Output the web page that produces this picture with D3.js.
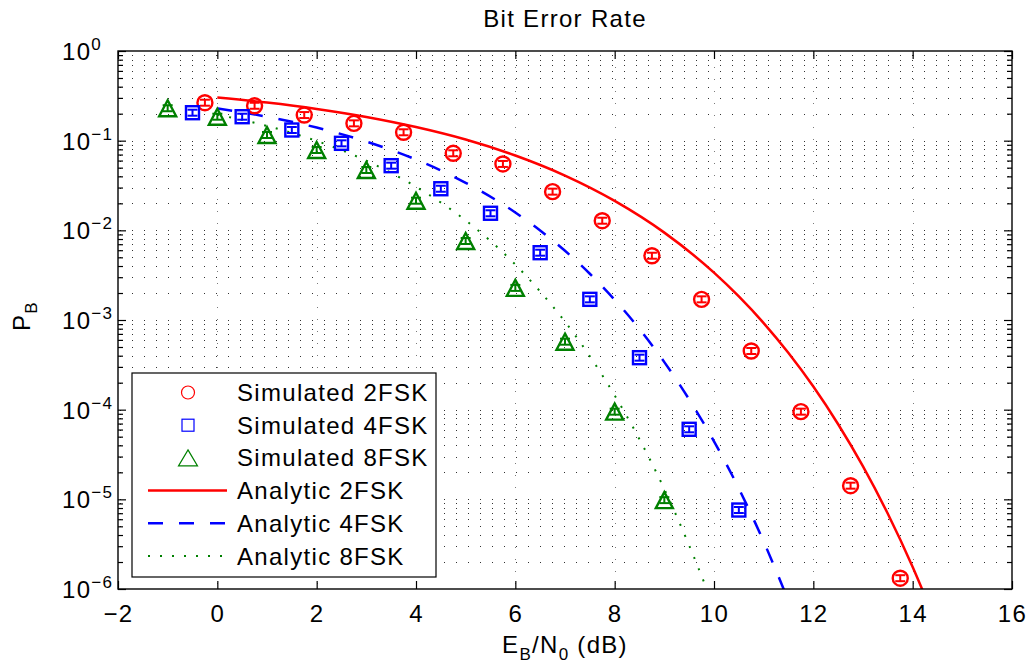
<!DOCTYPE html>
<html>
<head>
<meta charset="utf-8">
<script src="https://cdn.jsdelivr.net/npm/d3@7"></script>
<style>
  body { margin: 0; background: #fff; }
  svg text { font-family: Arial, "Liberation Sans", Helvetica, sans-serif; fill: #000; letter-spacing: 1.3px; }
</style>
</head>
<body>
<div id="chart"></div>
<script>
// simulated points (Eb/N0 in dB, bit error probability)
var sim2x = [-0.25, 0.75, 1.75, 2.75, 3.75, 4.75, 5.75, 6.75, 7.75, 8.75, 9.75, 10.75, 11.75, 12.75, 13.75];
var sim2y = [0.265, 0.245, 0.193, 0.156, 0.124, 0.0723, 0.055, 0.027, 0.0128, 0.00521, 0.0017, 4.51e-4, 9.5e-5, 1.42e-5, 1.32e-6];

var sim4x = [-0.5, 0.5, 1.5, 2.5, 3.5, 4.5, 5.5, 6.5, 7.5, 8.5, 9.5, 10.5];
var sim4y = [0.205, 0.185, 0.1315, 0.0934, 0.0526, 0.0291, 0.0155, 0.00563, 0.0017, 3.8e-4, 6.04e-5, 7.6e-6];

var sim8x = [-1, 0, 1, 2, 3, 4, 5, 6, 7, 8, 9];
var sim8y = [0.23, 0.185, 0.1157, 0.0787, 0.0471, 0.0214, 0.0076, 0.00228, 5.73e-4, 9.5e-5, 9.8e-6];

// relative size of the error bars
var simErr = 0.08;

// analytic curves
var ana2x = [0, 1, 2, 3, 4, 5, 6, 7, 8, 9, 10, 10.5, 11, 11.5, 12, 12.5, 13, 13.5, 14, 14.5];
var ana2y = [0.303, 0.266, 0.226, 0.184, 0.142, 0.103, 0.0683, 0.0408, 0.0213, 0.00943, 0.00337, 0.00183, 9.24e-4, 4.28e-4, 1.81e-4, 6.88e-5, 2.33e-5, 6.9e-6, 1.76e-6, 3.8e-7];

var ana4x = [0, 1, 2, 3, 4, 5, 6, 6.5, 7, 7.5, 8, 8.5, 9, 9.5, 10, 10.5, 11, 11.5];
var ana4y = [0.229, 0.185, 0.140, 0.0978, 0.0616, 0.0339, 0.0158, 0.00996, 0.00591, 0.00328, 0.00168, 7.94e-4, 3.39e-4, 1.30e-4, 4.44e-5, 1.32e-5, 3.38e-6, 7.35e-7];

var ana8x = [0, 1, 2, 3, 4, 5, 6, 6.5, 7, 7.5, 8, 8.5, 9, 9.5, 9.9];
var ana8y = [0.195, 0.146, 0.0993, 0.0598, 0.0306, 0.0129, 0.00415, 0.00208, 9.57e-4, 3.94e-4, 1.445e-4, 4.67e-5, 1.30e-5, 3.06e-6, 8.6e-7];

var xTicks = [-2, 0, 2, 4, 6, 8, 10, 12, 14, 16];
var yDecades = [-6, -5, -4, -3, -2, -1, 0];

var legendLabels = ["Simulated 2FSK", "Simulated 4FSK", "Simulated 8FSK", "Analytic 2FSK", "Analytic 4FSK", "Analytic 8FSK"];

var red = "#ff0000", blue = "#0000ff", green = "#008000";

var margin = { top: 51, left: 118, right: 17, bottom: 78 },
    width = 1029 - margin.left - margin.right,
    height = 667 - margin.top - margin.bottom;

var svg = d3.select("#chart")
  .append("svg")
  .attr("width", 1029)
  .attr("height", 667);

svg.append("rect").attr("width", 1029).attr("height", 667).attr("fill", "#fff");

var g = svg.append("g")
  .attr("transform", "translate(" + margin.left + "," + margin.top + ")");

var x = d3.scaleLinear().domain([-2, 16]).range([0, width]);
var y = d3.scaleLog().domain([1e-6, 1]).range([height, 0]);

g.append("clipPath").attr("id", "plot-clip")
  .append("rect").attr("width", width).attr("height", height);

// grid: dotted rows at every log tick, dotted columns at major x ticks
var rows = y.ticks().filter(function(v) { return v > 1e-6 * 1.01 && v < 0.99; });
g.selectAll(".grid-row")
  .data(rows)
  .enter().append("line")
  .attr("class", "grid-row")
  .attr("x1", 0).attr("x2", width)
  .attr("y1", function(d) { return Math.round(y(d)) + 0.5; })
  .attr("y2", function(d) { return Math.round(y(d)) + 0.5; })
  .attr("stroke", "#333")
  .attr("stroke-width", 1)
  .attr("stroke-dasharray", "1,11")
  .attr("stroke-dashoffset", -2);

g.selectAll(".grid-col")
  .data(xTicks.slice(1, -1))
  .enter().append("line")
  .attr("class", "grid-col")
  .attr("y1", 0).attr("y2", height)
  .attr("x1", function(d) { return Math.round(x(d)) + 0.5; })
  .attr("x2", function(d) { return Math.round(x(d)) + 0.5; })
  .attr("stroke", "#7a7a7a")
  .attr("stroke-width", 1)
  .attr("stroke-dasharray", "1,11")
  .attr("stroke-dashoffset", -4);

// analytic lines
var lineGen = d3.line()
  .x(function(d) { return x(d[0]); })
  .y(function(d) { return y(d[1]); })
  .curve(d3.curveMonotoneX);

var analytic = [
  { xs: ana2x, ys: ana2y, color: red, dash: null },
  { xs: ana4x, ys: ana4y, color: blue, dash: "15,16" },
  { xs: ana8x, ys: ana8y, color: green, dash: "2,10" }
];

g.append("g").attr("clip-path", "url(#plot-clip)")
  .selectAll("path")
  .data(analytic)
  .enter().append("path")
  .attr("fill", "none")
  .attr("stroke", function(d) { return d.color; })
  .attr("stroke-width", function(d) { return d.dash === "2,10" ? 2 : 2.5; })
  .attr("stroke-dasharray", function(d) { return d.dash; })
  .attr("d", function(d) {
    return lineGen(d.xs.map(function(v, i) { return [v, d.ys[i]]; }));
  });

// simulated points with error bars
function drawErrorBars(sel, color) {
  sel.append("line")
    .attr("x1", function(d) { return x(d[0]); })
    .attr("x2", function(d) { return x(d[0]); })
    .attr("y1", function(d) { return y(d[1] * (1 + simErr)); })
    .attr("y2", function(d) { return y(d[1] / (1 + simErr)); })
    .attr("stroke", color).attr("stroke-width", 2);
  [1 + simErr, 1 / (1 + simErr)].forEach(function(f) {
    sel.append("line")
      .attr("x1", function(d) { return x(d[0]) - 5; })
      .attr("x2", function(d) { return x(d[0]) + 5; })
      .attr("y1", function(d) { return y(d[1] * f); })
      .attr("y2", function(d) { return y(d[1] * f); })
      .attr("stroke", color).attr("stroke-width", 2);
  });
}

function pairs(xs, ys) {
  return xs.map(function(v, i) { return [v, ys[i]]; });
}

function triPath(cx, cy, hw, h) {
  return "M" + cx + "," + (cy - h / 2) + "L" + (cx + hw) + "," + (cy + h / 2) +
    "L" + (cx - hw) + "," + (cy + h / 2) + "Z";
}

var pts2 = g.append("g").selectAll("g").data(pairs(sim2x, sim2y)).enter().append("g");
drawErrorBars(pts2, red);
pts2.append("circle")
  .attr("cx", function(d) { return x(d[0]); })
  .attr("cy", function(d) { return y(d[1]); })
  .attr("r", 7.5)
  .attr("fill", "none").attr("stroke", red).attr("stroke-width", 2.4);

var pts4 = g.append("g").selectAll("g").data(pairs(sim4x, sim4y)).enter().append("g");
drawErrorBars(pts4, blue);
pts4.append("rect")
  .attr("x", function(d) { return x(d[0]) - 6.5; })
  .attr("y", function(d) { return y(d[1]) - 6.5; })
  .attr("width", 13).attr("height", 13)
  .attr("fill", "none").attr("stroke", blue).attr("stroke-width", 2.4);

var pts8 = g.append("g").selectAll("g").data(pairs(sim8x, sim8y)).enter().append("g");
drawErrorBars(pts8, green);
pts8.append("path")
  .attr("d", function(d) { return triPath(x(d[0]), y(d[1]), 8.5, 16); })
  .attr("fill", "none").attr("stroke", green).attr("stroke-width", 2.4)
  .attr("stroke-linejoin", "miter");

// axes: ticks point inward on all four sides
var majors = yDecades.map(function(e) { return Math.pow(10, e); });
var minors = y.ticks().filter(function(v) { return majors.indexOf(v) < 0 && Math.abs(Math.log10(v) - Math.round(Math.log10(v))) > 1e-6; });

function cleanAxis(sel) {
  sel.select(".domain").remove();
  sel.selectAll(".tick line").attr("stroke", "#000").attr("stroke-width", 1.2);
}

g.append("g")
  .attr("transform", "translate(0," + height + ")")
  .call(d3.axisBottom(x).tickValues(xTicks).tickSize(-8))
  .call(cleanAxis)
  .call(function(a) {
    a.selectAll("text")
      .attr("y", 33).attr("dy", null)
      .style("font-size", "24px")
      .style("font-family", "Arial, 'Liberation Sans', sans-serif");
  });

g.append("g")
  .call(d3.axisTop(x).tickValues(xTicks).tickSize(-8).tickFormat(""))
  .call(cleanAxis);

g.append("g")
  .call(d3.axisLeft(y).tickValues(majors).tickSize(-8).tickFormat(""))
  .call(cleanAxis);
g.append("g")
  .call(d3.axisLeft(y).tickValues(minors).tickSize(-5).tickFormat(""))
  .call(cleanAxis);
g.append("g")
  .attr("transform", "translate(" + width + ",0)")
  .call(d3.axisRight(y).tickValues(majors).tickSize(-8).tickFormat(""))
  .call(cleanAxis);
g.append("g")
  .attr("transform", "translate(" + width + ",0)")
  .call(d3.axisRight(y).tickValues(minors).tickSize(-5).tickFormat(""))
  .call(cleanAxis);

g.append("rect")
  .attr("width", width).attr("height", height)
  .attr("fill", "none").attr("stroke", "#000").attr("stroke-width", 1.4);

// y tick labels as 10^n
var yLab = g.selectAll(".ylab")
  .data(yDecades)
  .enter().append("text")
  .attr("class", "ylab")
  .attr("x", -56)
  .attr("y", function(d) { return y(Math.pow(10, d)) + 9; })
  .style("font-size", "24px");
yLab.append("tspan").text("10");
yLab.append("tspan")
  .attr("dy", -10)
  .style("font-size", "17px")
  .text(function(d) { return d === 0 ? "0" : "\u2212" + Math.abs(d); });

// title and axis labels
g.append("text")
  .attr("x", width / 2).attr("y", -24)
  .attr("text-anchor", "middle")
  .style("font-size", "24px")
  .text("Bit Error Rate");

var xl = g.append("text")
  .attr("x", width / 2).attr("y", height + 64)
  .attr("text-anchor", "middle")
  .style("font-size", "24px");
xl.append("tspan").text("E");
xl.append("tspan").attr("dy", 7).style("font-size", "17px").text("B");
xl.append("tspan").attr("dy", -7).text("/N");
xl.append("tspan").attr("dy", 7).style("font-size", "17px").text("0");
xl.append("tspan").attr("dy", -7).text(" (dB)");

var yl = svg.append("text")
  .attr("transform", "translate(30,316) rotate(-90)")
  .attr("text-anchor", "middle")
  .style("font-size", "24px");
yl.append("tspan").text("P");
yl.append("tspan").attr("dy", 7).style("font-size", "17px").text("B");

// legend
var legend = svg.append("g").attr("transform", "translate(132,373)");
legend.append("rect")
  .attr("width", 304).attr("height", 204)
  .attr("fill", "#fff").attr("stroke", "#000").attr("stroke-width", 1.2);

var legRow = function(i) { return 19.5 + i * 32.7; };

legend.selectAll(".leg-text")
  .data(legendLabels)
  .enter().append("text")
  .attr("class", "leg-text")
  .attr("x", 105)
  .attr("y", function(d, i) { return legRow(i) + 8.5; })
  .style("font-size", "24px")
  .text(function(d) { return d; });

var mx = 56;
legend.append("circle").attr("cx", mx).attr("cy", legRow(0)).attr("r", 6.5)
  .attr("fill", "none").attr("stroke", red).attr("stroke-width", 1.2);
legend.append("rect").attr("x", mx - 6).attr("y", legRow(1) - 6).attr("width", 12).attr("height", 12)
  .attr("fill", "none").attr("stroke", blue).attr("stroke-width", 1.2);
legend.append("path").attr("d", triPath(mx, legRow(2), 9.5, 16))
  .attr("fill", "none").attr("stroke", green).attr("stroke-width", 1.2);

analytic.forEach(function(s, i) {
  legend.append("line")
    .attr("x1", 16).attr("x2", 95)
    .attr("y1", legRow(3 + i)).attr("y2", legRow(3 + i))
    .attr("stroke", s.color)
    .attr("stroke-width", s.dash === "2,10" ? 2 : 2.5)
    .attr("stroke-dasharray", s.dash);
});
</script>
</body>
</html>
